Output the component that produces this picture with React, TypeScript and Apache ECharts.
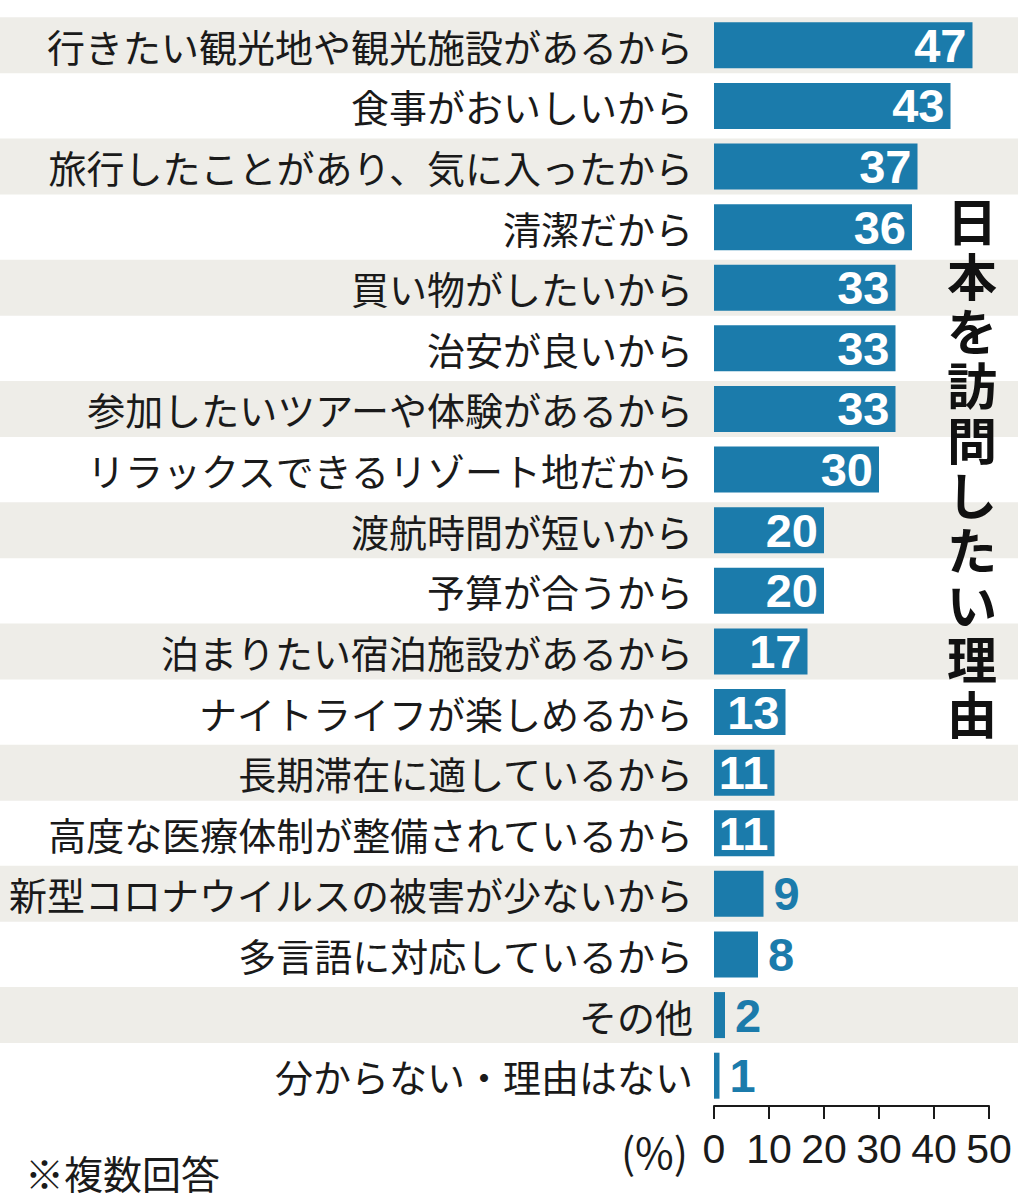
import { useEffect, useRef } from 'react';
import * as echarts from 'echarts';

const categories = [
  '行きたい観光地や観光施設があるから',
  '食事がおいしいから',
  '旅行したことがあり、気に入ったから',
  '清潔だから',
  '買い物がしたいから',
  '治安が良いから',
  '参加したいツアーや体験があるから',
  'リラックスできるリゾート地だから',
  '渡航時間が短いから',
  '予算が合うから',
  '泊まりたい宿泊施設があるから',
  'ナイトライフが楽しめるから',
  '長期滞在に適しているから',
  '高度な医療体制が整備されているから',
  '新型コロナウイルスの被害が少ないから',
  '多言語に対応しているから',
  'その他',
  '分からない・理由はない',
];
const percents = [47, 43, 37, 36, 33, 33, 33, 30, 20, 20, 17, 13, 11, 11, 9, 8, 2, 1];
// rows with the grey background band
const shadedRows = [1, 0, 1, 0, 1, 0, 1, 0, 1, 0, 1, 0, 1, 0, 1, 0, 1, 0];
const xTicks = [0, 10, 20, 30, 40, 50];

const title = '日本を訪問したい理由';
const note = '※複数回答';

const BLUE = '#1b7bab';
const JP = '"Noto Sans CJK JP", "Noto Sans", sans-serif';
const NUM = '"Liberation Sans", Arial, sans-serif';

export default function App() {
  const chartRef = useRef(null);

  useEffect(() => {
    const chart = echarts.init(chartRef.current, null, { renderer: 'svg' });

    // vertical title: the characters sit tight on top of each other, like the print
    const titleChars = title.split('').map((ch, i) => ({
      type: 'text',
      z: 100,
      x: 972,
      y: 219 + i * 54.8,
      style: {
        text: ch,
        fill: '#111111',
        fontSize: 50,
        fontWeight: 'bold',
        fontFamily: JP,
        align: 'center',
        verticalAlign: 'middle',
      },
    }));

    const option = {
      animation: false,
      backgroundColor: '#ffffff',
      grid: [
        { left: 714, top: 15, width: 275, height: 1091, containLabel: false },
        { left: 0, top: 15, width: 1018, height: 1091, containLabel: false },
      ],
      xAxis: [
        {
          gridIndex: 0,
          type: 'value',
          min: xTicks[0],
          max: xTicks[xTicks.length - 1],
          interval: 10,
          splitLine: { show: false },
          axisLine: { show: true, lineStyle: { color: '#1a1a1a', width: 2 } },
          axisTick: { show: true, length: 13, lineStyle: { color: '#1a1a1a', width: 2 } },
          axisLabel: {
            color: '#1a1a1a',
            fontSize: 41,
            fontFamily: NUM,
            margin: 22,
            showMinLabel: true,
            showMaxLabel: true,
          },
        },
        { gridIndex: 1, type: 'value', min: 0, max: 1, show: false },
      ],
      yAxis: [
        {
          gridIndex: 0,
          type: 'category',
          data: categories,
          inverse: true,
          axisLine: { show: false },
          axisTick: { show: false },
          axisLabel: {
            color: '#1a1a1a',
            fontSize: 38,
            fontFamily: JP,
            margin: 21,
          },
        },
        { gridIndex: 1, type: 'category', data: categories, inverse: true, show: false },
      ],
      series: [
        {
          type: 'bar',
          xAxisIndex: 1,
          yAxisIndex: 1,
          data: shadedRows,
          barWidth: 56,
          silent: true,
          z: 0,
          itemStyle: { color: '#eeede8' },
        },
        {
          type: 'bar',
          xAxisIndex: 0,
          yAxisIndex: 0,
          z: 2,
          barWidth: 46,
          itemStyle: { color: BLUE },
          data: percents.map((v) => ({
            value: v,
            label: {
              show: true,
              position: v >= 10 ? 'insideRight' : 'right',
              distance: v >= 10 ? 6 : 10,
              color: v >= 10 ? '#ffffff' : BLUE,
              fontSize: 47,
              fontWeight: 'bold',
              fontFamily: NUM,
            },
          })),
        },
      ],
      graphic: [
        ...titleChars,
        {
          type: 'text',
          z: 100,
          x: 688,
          y: 1150,
          style: {
            text: '(%)',
            fill: '#1a1a1a',
            fontSize: 42,
            fontFamily: JP,
            align: 'right',
            verticalAlign: 'middle',
          },
        },
        {
          type: 'text',
          z: 100,
          x: 25,
          y: 1172,
          style: {
            text: note,
            fill: '#1a1a1a',
            fontSize: 39,
            fontFamily: JP,
            align: 'left',
            verticalAlign: 'middle',
          },
        },
      ],
    };

    chart.setOption(option);
    return () => {
      chart.dispose();
    };
  }, []);

  return (
    <div
      ref={chartRef}
      style={{ position: 'absolute', left: 0, top: 0, width: '1018px', height: '1200px' }}
    />
  );
}
